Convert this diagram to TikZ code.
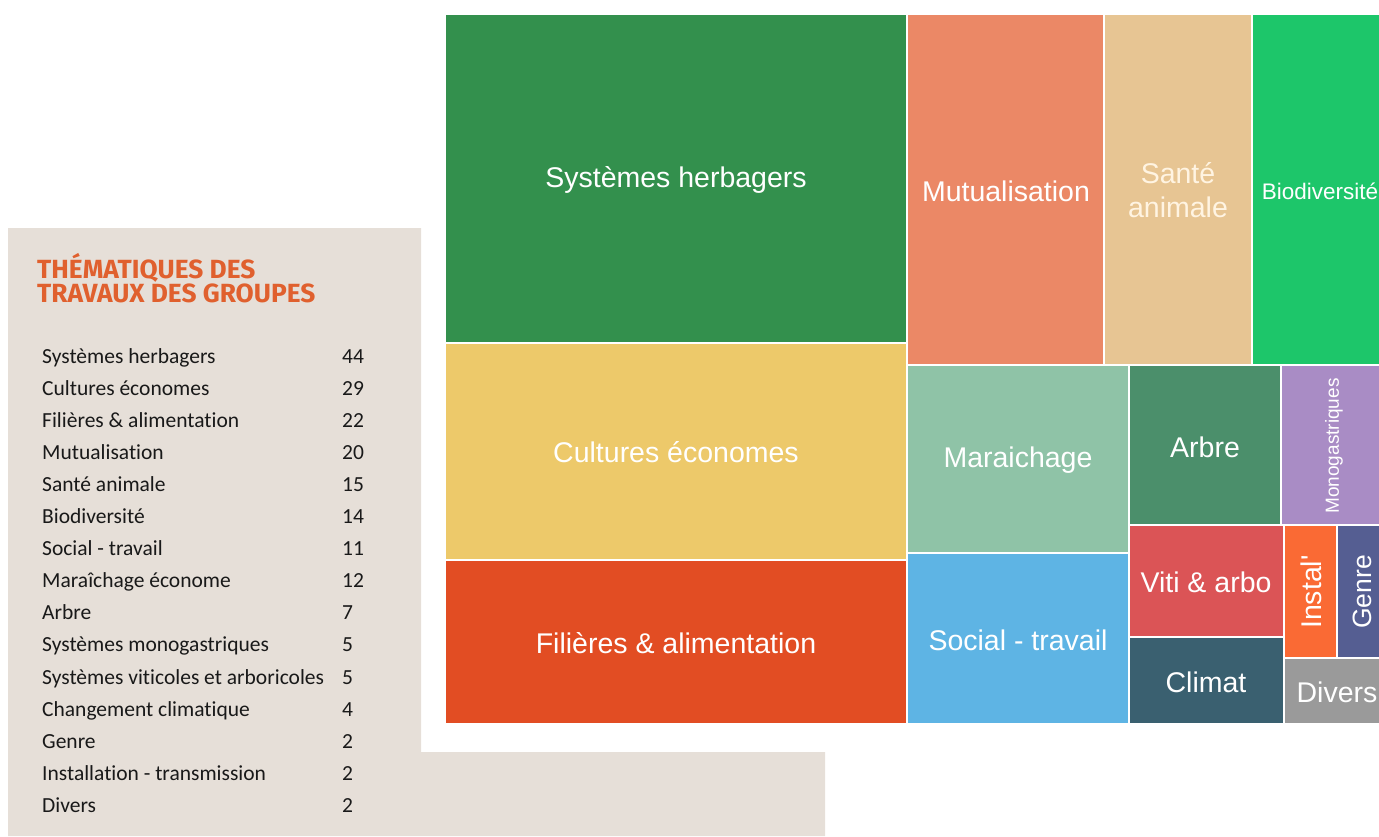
\documentclass[tikz,border=0pt]{standalone}
\usepackage{fontspec}
\setmainfont{Carlito}[Ligatures=NoCommon]
\newfontfamily\tmfont{Liberation Sans}
\newfontfamily\titlefont{Fira Sans}
\definecolor{beige}{HTML}{E6DFD8}
\definecolor{titleor}{HTML}{E0602E}
\definecolor{cherb}{HTML}{33904D}
\definecolor{ccult}{HTML}{EDC96A}
\definecolor{cfil}{HTML}{E24D23}
\definecolor{cmut}{HTML}{EB8866}
\definecolor{csante}{HTML}{E7C593}
\definecolor{cbio}{HTML}{1DC66A}
\definecolor{cmara}{HTML}{8FC3A7}
\definecolor{csoc}{HTML}{5EB4E4}
\definecolor{carb}{HTML}{4B8F6B}
\definecolor{cmono}{HTML}{A98CC5}
\definecolor{cviti}{HTML}{DB5456}
\definecolor{cclim}{HTML}{3A6070}
\definecolor{cinst}{HTML}{FA6A34}
\definecolor{cgenre}{HTML}{555E92}
\definecolor{cdiv}{HTML}{9A9A9A}
\definecolor{cream}{HTML}{FFF4E2}
\newcommand{\tmcell}[6]{\path[fill=#5,draw=white,line width=2pt] (#1,#2) rectangle (#3,#4);}
\begin{document}
\begin{tikzpicture}[x=1pt,y=-1pt,
  tmlab/.style={font=\tmfont\fontsize{28.5}{34}\selectfont,text=white,inner sep=0pt,align=center},
  rowlab/.style={anchor=base west,inner sep=0pt,font=\fontsize{21.5}{24}\selectfont,text=black!90},
  rownum/.style={anchor=base west,inner sep=0pt,font=\fontsize{21.5}{24}\selectfont,text=black!90},
  ttl/.style={anchor=base west,inner sep=0pt,font=\titlefont\bfseries\fontsize{26.3}{24}\selectfont,text=titleor}]
\useasboundingbox (0,0) rectangle (1379,836);
\clip (0,0) rectangle (1379,836);
% beige panel
\fill[beige] (8,228) -- (421,228) -- (421,752) -- (825,752) -- (825,836) -- (8,836) -- cycle;
% title
\node[ttl] (t1) at (37,278) {THÉMATIQUES DES};
\node[ttl] (t2) at (37,302) {TRAVAUX DES GROUPES};
% list
\foreach \lab/\num [count=\i from 0] in {Systèmes herbagers/44,Cultures économes/29,Filières \& alimentation/22,Mutualisation/20,Santé animale/15,Biodiversité/14,Social - travail/11,Maraîchage économe/12,Arbre/7,Systèmes monogastriques/5,Systèmes viticoles et arboricoles/5,Changement climatique/4,Genre/2,Installation - transmission/2,Divers/2}{
  \node[rowlab] (l\i) at (42,{363+32.1*\i}) {\lab};
  \node[rownum] (n\i) at (342,{363+32.1*\i}) {\num};
}
% treemap cells
\tmcell{445}{14}{907}{343}{cherb}{}
\tmcell{445}{343}{907}{560}{ccult}{}
\tmcell{445}{560}{907}{724}{cfil}{}
\tmcell{907}{14}{1104}{365}{cmut}{}
\tmcell{1104}{14}{1252}{365}{csante}{}
\tmcell{1252}{14}{1390}{365}{cbio}{}
\tmcell{907}{365}{1129}{553}{cmara}{}
\tmcell{907}{553}{1129}{724}{csoc}{}
\tmcell{1129}{365}{1281}{525}{carb}{}
\tmcell{1281}{365}{1390}{525}{cmono}{}
\tmcell{1129}{525}{1284}{637}{cviti}{}
\tmcell{1129}{637}{1284}{724}{cclim}{}
\tmcell{1284}{525}{1337}{658}{cinst}{}
\tmcell{1337}{525}{1390}{658}{cgenre}{}
\tmcell{1284}{658}{1390}{724}{cdiv}{}
% labels
\node[tmlab] (herb) at (676,180) {Systèmes herbagers};
\node[tmlab] (cult) at (676,452) {Cultures économes};
\node[tmlab] (fil) at (676,643) {Filières \& alimentation};
\node[tmlab] (mut) at (1006,191) {Mutualisation};
\node[tmlab,text=cream] (sante) at (1178,190) {Santé\\animale};
\node[tmlab,font=\tmfont\fontsize{22.5}{26}\selectfont] (bio) at (1320,191) {Biodiversité};
\node[tmlab] (mara) at (1018,460) {Maraichage};
\node[tmlab] (soc) at (1018,640) {Social - travail};
\node[tmlab] (arb) at (1205,447) {Arbre};
\node[tmlab,rotate=90,font=\tmfont\fontsize{19}{22}\selectfont] (mono) at (1334,446) {Monogastriques};
\node[tmlab] (viti) at (1206,582) {Viti \& arbo};
\node[tmlab] (clim) at (1206,682) {Climat};
\node[tmlab,rotate=90] (inst) at (1311,592) {Instal'};
\node[tmlab,rotate=90,font=\tmfont\fontsize{26.5}{30}\selectfont] (genre) at (1362,592) {Genre};
\node[tmlab] (div) at (1337,692) {Divers};
\end{tikzpicture}
\end{document}
